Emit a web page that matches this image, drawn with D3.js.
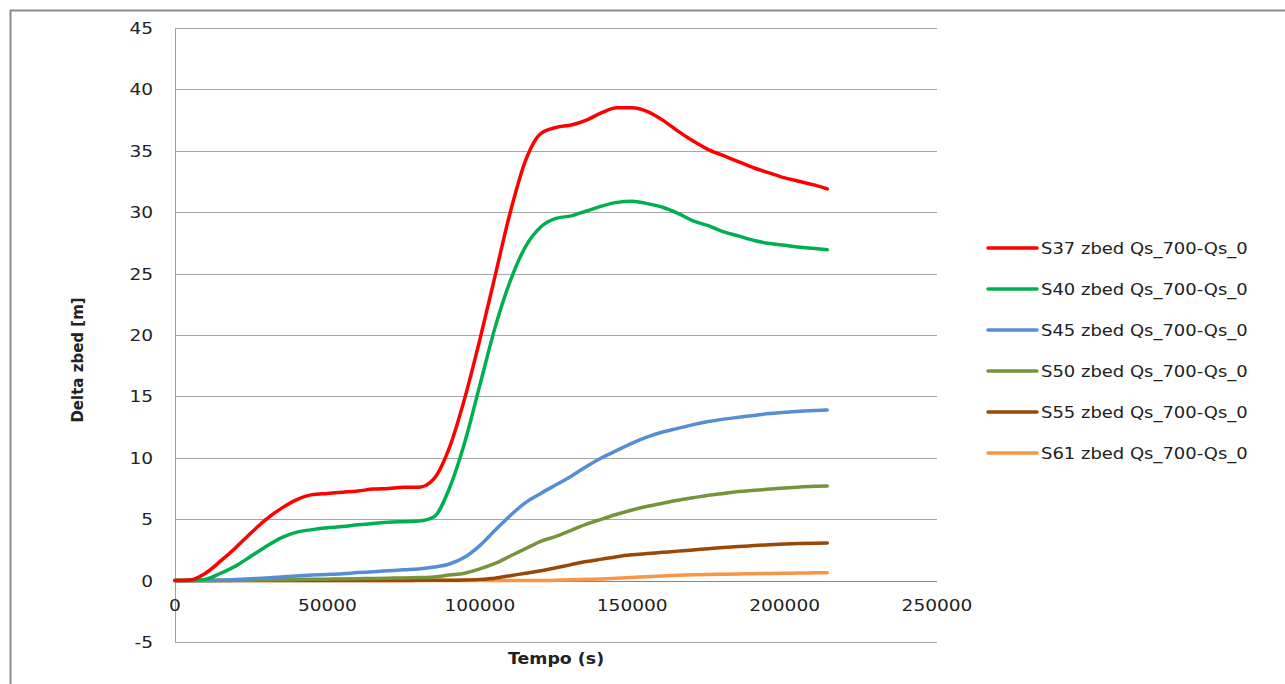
<!DOCTYPE html>
<html lang="en">
<head>
  <meta charset="UTF-8">
  <title>Delta zbed</title>
  <style>
  body { margin: 0; background: #fff; }
  svg { display: block; }
  text { font-family: 'DejaVu Sans', Verdana, sans-serif; fill: #222; }
  .grid line { stroke-width: 1px; }
  .series { fill: none; stroke-width: 3.5px; stroke-linejoin: round; stroke-linecap: round; }
  </style>
</head>
<body>
  <svg></svg>
  <script src="https://d3js.org/d3.v7.min.js"></script>
  <script>

  // time (s)
  var tempo = [0, 5000, 10000, 15000, 20000, 25000, 30000, 35000, 40000, 45000,
    50000, 55000, 60000, 65000, 70000, 75000, 80000, 85000, 90000, 95000,
    100000, 105000, 110000, 115000, 120000, 125000, 130000, 135000, 140000, 145000,
    150000, 155000, 160000, 165000, 170000, 175000, 180000, 185000, 190000, 195000,
    200000, 205000, 210000, 214000];

  var s37 = [0, 0.05, 0.6, 1.6, 2.7, 3.9, 5.0, 5.9, 6.6, 7.0,
    7.1, 7.2, 7.3, 7.45, 7.5, 7.6, 7.6, 8.3, 10.8, 14.8,
    19.6, 24.8, 30.0, 34.2, 36.4, 36.9, 37.1, 37.5, 38.1, 38.5,
    38.5, 38.2, 37.5, 36.6, 35.8, 35.1, 34.6, 34.1, 33.6, 33.2,
    32.8, 32.5, 32.2, 31.9];

  var s40 = [0, 0, 0.1, 0.6, 1.2, 2.0, 2.8, 3.5, 3.95, 4.15,
    4.3, 4.4, 4.55, 4.65, 4.75, 4.8, 4.85, 5.2, 7.5, 11.2,
    15.9, 20.6, 24.4, 27.2, 28.8, 29.5, 29.7, 30.1, 30.5, 30.8,
    30.9, 30.7, 30.4, 29.9, 29.3, 28.9, 28.4, 28.05, 27.7, 27.45,
    27.3, 27.15, 27.05, 26.95];

  var s45 = [0, 0, 0, 0.02, 0.08, 0.15, 0.22, 0.3, 0.38, 0.45,
    0.5, 0.56, 0.65, 0.72, 0.8, 0.88, 0.95, 1.1, 1.35, 1.9,
    2.85, 4.1, 5.3, 6.35, 7.1, 7.8, 8.5, 9.3, 10.0, 10.6,
    11.2, 11.7, 12.1, 12.4, 12.7, 12.95, 13.15, 13.3, 13.45, 13.6,
    13.7, 13.8, 13.85, 13.9];

  var s50 = [0, 0, 0, 0, 0.02, 0.03, 0.05, 0.06, 0.08, 0.1,
    0.12, 0.14, 0.16, 0.18, 0.2, 0.22, 0.25, 0.3, 0.45, 0.6,
    0.95, 1.4, 2.0, 2.6, 3.2, 3.6, 4.1, 4.6, 5.0, 5.4,
    5.75, 6.05, 6.3, 6.55, 6.75, 6.95, 7.1, 7.25, 7.35, 7.45,
    7.55, 7.62, 7.68, 7.7];

  var s55 = [0, 0, 0, 0, 0, 0, 0, 0, 0, 0,
    0, 0, 0, 0, 0.01, 0.01, 0.02, 0.02, 0.03, 0.05,
    0.1, 0.2, 0.4, 0.6, 0.8, 1.05, 1.3, 1.55, 1.75, 1.95,
    2.1, 2.2, 2.3, 2.4, 2.5, 2.6, 2.7, 2.78, 2.85, 2.92,
    2.98, 3.02, 3.05, 3.07];

  var s61 = [0, 0, 0, 0, 0, 0, 0, 0, 0, 0,
    0, 0, 0, 0, 0, 0, 0, 0, 0, 0,
    0, 0, 0, 0, 0, 0.03, 0.06, 0.1, 0.14, 0.19,
    0.25, 0.32, 0.38, 0.43, 0.47, 0.5, 0.52, 0.54, 0.56, 0.58,
    0.6, 0.62, 0.63, 0.64];

  var seriesNames = ['S37 zbed Qs_700-Qs_0', 'S40 zbed Qs_700-Qs_0', 'S45 zbed Qs_700-Qs_0',
    'S50 zbed Qs_700-Qs_0', 'S55 zbed Qs_700-Qs_0', 'S61 zbed Qs_700-Qs_0'];
  var seriesValues = [s37, s40, s45, s50, s55, s61];
  var seriesColors = ['#ff0000', '#00b050', '#558ed5', '#77933c', '#984807', '#f79646'];

  var xTicks = [0, 50000, 100000, 150000, 200000, 250000];
  var yTicks = [-5, 0, 5, 10, 15, 20, 25, 30, 35, 40, 45];

  var W = 1285, H = 684;
  var svg = d3.select('svg').attr('width', W).attr('height', H);

  // outer chart frame
  svg.append('rect')
     .attr('x', 10.5).attr('y', 10.5)
     .attr('width', W + 20).attr('height', H + 20)
     .attr('fill', 'none').attr('stroke', '#8c8c8c').attr('stroke-width', 2);

  var plotLeft = 175, plotRight = 937, plotTop = 28, plotBottom = 642;
  var sx = 1.16; // the original's text is horizontally wide

  var x = d3.scaleLinear().domain([0, 250000]).range([plotLeft, plotRight]);
  var y = d3.scaleLinear().domain([-5, 45]).range([plotBottom, plotTop]);

  // horizontal gridlines
  svg.append('g').attr('class', 'grid')
     .selectAll('line')
     .data(yTicks)
     .enter()
     .append('line')
     .attr('x1', plotLeft).attr('x2', plotRight)
     .attr('y1', function (d) { return Math.round(y(d)) + 0.5; })
     .attr('y2', function (d) { return Math.round(y(d)) + 0.5; })
     .attr('stroke', function (d) { return d === 0 ? '#868686' : '#a6a6a6'; });

  // vertical axis line
  svg.append('line')
     .attr('x1', plotLeft + 0.5).attr('x2', plotLeft + 0.5)
     .attr('y1', plotTop).attr('y2', plotBottom)
     .attr('stroke', '#a0a0a0');

  function wideText(g, px, py, anchor, txt) {
    return g.append('text')
            .attr('transform', 'translate(' + px + ',' + py + ') scale(' + sx + ',1)')
            .attr('text-anchor', anchor)
            .text(txt);
  }

  var yLab = svg.append('g').style('font-size', '16px');
  yTicks.forEach(function (d) {
    wideText(yLab, 153, y(d) + 6, 'end', d);
  });

  var xLab = svg.append('g').style('font-size', '16px');
  xTicks.forEach(function (d) {
    wideText(xLab, x(d), 611, 'middle', d);
  });

  // axis titles
  wideText(svg, 556, 664, 'middle', 'Tempo (s)')
    .style('font-size', '15px').style('font-weight', 'bold');

  svg.append('text')
     .attr('transform', 'translate(83,360) rotate(-90)')
     .attr('text-anchor', 'middle')
     .style('font-size', '15px').style('font-weight', 'bold')
     .text('Delta zbed [m]');

  var line = d3.line()
               .x(function (d) { return x(d[0]); })
               .y(function (d) { return y(d[1]); })
               .curve(d3.curveMonotoneX);

  // draw in reverse so red ends up on top
  var order = d3.range(seriesValues.length).reverse();
  svg.append('g')
     .selectAll('path')
     .data(order)
     .enter()
     .append('path')
     .attr('class', 'series')
     .attr('stroke', function (i) { return seriesColors[i]; })
     .attr('d', function (i) {
       return line(tempo.map(function (t, k) { return [t, seriesValues[i][k]]; }));
     });

  // legend
  var legend = svg.append('g').style('font-size', '15.5px');
  seriesNames.forEach(function (name, i) {
    var ly = 248 + i * 41;
    legend.append('line')
          .attr('x1', 988).attr('x2', 1037)
          .attr('y1', ly).attr('y2', ly)
          .attr('stroke', seriesColors[i])
          .attr('stroke-width', 3.5)
          .attr('stroke-linecap', 'round');
    wideText(legend, 1041, ly + 5.5, 'start', name);
  });

  </script>
</body>
</html>
